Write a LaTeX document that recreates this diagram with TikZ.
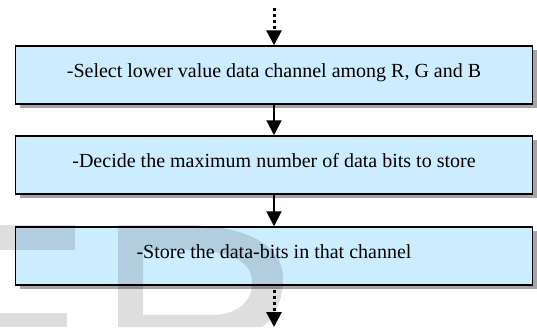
\documentclass[tikz,border=0pt]{standalone}
\usepackage{fontspec}
\setmainfont{Liberation Serif}
\usetikzlibrary{arrows.meta,shadows}
\definecolor{boxblue}{RGB}{204,236,255}
\definecolor{shadowgray}{RGB}{165,165,165}
\begin{document}
\begin{tikzpicture}[x=1pt,y=-1pt,
  stepbox/.style={draw=black, line width=1.5pt, fill=boxblue,
    minimum width=517pt, minimum height=58pt, inner sep=0pt,
    font=\fontsize{20}{24}\selectfont, text height=15pt, text depth=11pt,
    drop shadow={shadow xshift=4pt, shadow yshift=-4pt, fill=shadowgray, opacity=1}},
  solidarrow/.style={line width=2pt, -{Triangle[width=15pt,length=15pt]}},
  dotarrow/.style={line width=3pt, dash pattern=on 3pt off 3pt, -{Triangle[width=15pt,length=15pt]}},
  watermark/.style={fill=black, fill opacity=0.13, even odd rule}
]
\useasboundingbox (0,0) rectangle (537,327);
\fill[white] (0,0) rectangle (537,327);

\node[stepbox] (b1) at (274,75) {-Select lower value data channel among R, G and B};
\node[stepbox] (b2) at (274,165) {-Decide the maximum number of data bits to store};
\node[stepbox] (b3) at (274,256) {-Store the data-bits in that channel};

\coordinate (start) at (274,8);
\coordinate (finish) at (274,327);

\draw[dotarrow] (start) -- (b1.north);
\draw[solidarrow] (b1.south) -- (b2.north);
\draw[solidarrow] (b2.south) -- (b3.north);
\draw[dotarrow, shorten <=4pt] (b3.south) -- (finish);

% watermark fragments
\fill[watermark] (0,225) rectangle (75,250);
\fill[watermark] (0,313) rectangle (67,327);
\fill[watermark]
  (118,225) -- (185,225) .. controls (245,225) and (283,245) .. (283,278)
  .. controls (283,300) and (275,318) .. (262,327) -- (118,327) -- cycle
  (143,250) -- (185,250) .. controls (232,250) and (252,262) .. (252,282)
  .. controls (252,302) and (238,315) .. (210,315) -- (143,315) -- cycle;
\end{tikzpicture}
\end{document}
